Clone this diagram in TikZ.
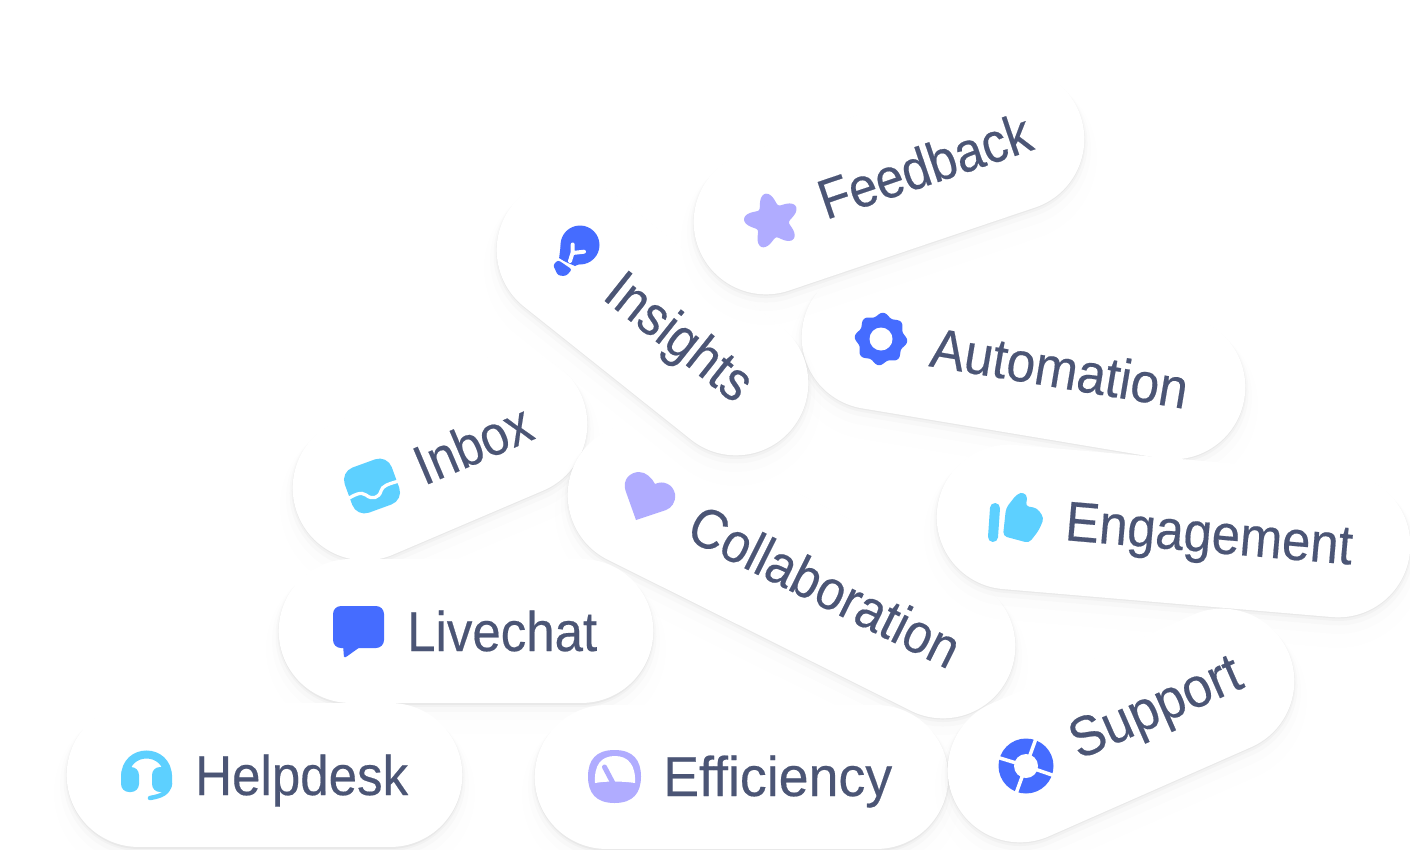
\documentclass[tikz,border=0pt]{standalone}
\usepackage{fontspec}
\setmainfont[FakeBold=0.35]{Liberation Sans}
\usetikzlibrary{calc}
\definecolor{ink}{RGB}{75,85,117}
\definecolor{blueic}{RGB}{69,108,255}
\definecolor{cyanic}{RGB}{93,208,255}
\definecolor{lilac}{RGB}{176,172,255}
\definecolor{shade}{RGB}{110,130,205}
\tikzset{
  lbl/.style={anchor=base west,inner sep=0pt,text=ink,font=\fontsize{56}{60}\selectfont},
}
\newcommand{\pill}[4]{%
  \foreach \w/\d/\o in {170/18/.005,158/10/.008,151/5/.014,147/2.5/.025,145/1/.035}{
    \draw[shade,opacity=\o,line width=\w pt,line cap=round] ($(#1,#2)+(0,\d)$) -- ($(#3,#4)+(0,\d)$);
  }
  \draw[white,line width=144.6pt,line cap=round] (#1,#2) -- (#3,#4);
}
\newcommand{\lab}[6]{% name x y angle width text
  \node[lbl,rotate=#4] (#1) at (#2,#3) {\resizebox{#5pt}{\height}{#6}};
}
\begin{document}
\begin{tikzpicture}[x=1pt,y=-1pt]
\useasboundingbox (0,0) rectangle (1410,849);
\fill[white] (0,0) rectangle (1410,849);
% pills
\pill{365}{488}{515}{424}
\pill{640}{495}{943}{646}
\pill{874}{337}{1173}{387}
\pill{569}{250}{736}{383}
\pill{1012}{139}{766}{222}
\pill{1009}{517}{1338}{545}
\pill{351}{631}{581}{631}
\pill{139}{775}{390}{775}
\pill{607}{777}{876}{777}
\pill{1020}{770}{1222}{681}
% labels
\lab{tfeed}{826}{220}{18.7}{221}{Feedback}
\lab{tins}{601}{298}{-38.4}{171}{Insights}
\lab{tauto}{928}{366}{-9.5}{260}{Automation}
\lab{teng}{1064}{540}{-4.9}{288}{Engagement}
\lab{tinbox}{424}{486}{23}{122}{Inbox}
\lab{tcoll}{684}{538}{-26.5}{295}{Collaboration}
\lab{tlive}{407}{651}{0}{190}{Livechat}
\lab{thelp}{195}{795}{0}{213}{Helpdesk}
\lab{teff}{663}{796}{0}{229}{Efficiency}
\lab{tsup}{1079}{760}{23.7}{182}{Support}
% star
\fill[lilac] plot[domain=0:360,samples=120,smooth] ({772+(22.5+5.5*cos(5*(\x-32)))*cos(\x)},{221-(22.5+5.5*cos(5*(\x-32)))*sin(\x)}) -- cycle;
% bulb
\fill[blueic] (580,245) circle[radius=19.5pt];
\fill[blueic] (561,243)--(559,259)--(575,266)--(593,258)--cycle;
\draw[white,line width=4pt,line cap=round,line join=round] (570,261)--(572.5,253)--(572.7,244.5) (572.5,253)--(584,251.7);
\draw[white,line width=3pt] (556,258)--(575,270);
\fill[blueic,rounded corners=2.5pt] (553,265)--(558,260)--(572,269.5)--(566,276)--(558,275.5)--cycle;
% inbox
\begin{scope}[shift={(372,486)},rotate=20]
\fill[cyanic,rounded corners=13pt] (-25,-24) rectangle (25,24);
\end{scope}
\draw[white,line width=3.3pt] (346,500) .. controls (354,495) and (361,491) .. (366,495) .. controls (372,500) and (379,498) .. (381,491) .. controls (382,486) and (388,484) .. (399,481);
% gear
\fill[blueic] plot[domain=0:360,samples=120,smooth] ({881+(24.5+1.8*cos(8*(\x-85)))*cos(\x)},{339-(24.5+1.8*cos(8*(\x-85)))*sin(\x)}) -- cycle;
\fill[white] (881,339) circle[radius=11.5pt];
% thumb
\draw[cyanic,line width=10pt,line cap=round] (995,508)--(993,537);
\fill[cyanic,rounded corners=4pt] (1006,508)--(1017,494)--(1024,492)--(1028,498)--(1025,506)--(1037,508)--(1044,518)--(1039,530)--(1029,543)--(1003,536)--cycle;
% heart
\fill[lilac] (636,520) -- (626,492) .. controls (621,478) and (632,472) .. (639,472) .. controls (646,472) and (652,478) .. (655,484) .. controls (663,480) and (673,484) .. (675,494) .. controls (676,503) and (671,508) .. (666,510) -- cycle;
% livechat
\fill[blueic,rounded corners=8pt] (333,606) rectangle (384,648);
\fill[blueic,rounded corners=1pt] (343,645)--(344,657.5)--(346,657)--(360,647)--cycle;
% headset
\draw[cyanic,line width=8pt] (125,777) .. controls (125,747) and (168,747) .. (168,777);
\fill[cyanic,rounded corners=8pt] (121,767) rectangle (139,792);
\fill[cyanic,rounded corners=8pt] (152,767) rectangle (172,792);
\draw[cyanic,line width=4.5pt,line cap=round] (170,784) .. controls (168,793) and (162,796) .. (150,798);
% gauge
\fill[lilac] (614.5,750) .. controls (633,750) and (641,760) .. (641,776.5) .. controls (641,793) and (633,803) .. (614.5,803) .. controls (596,803) and (588,793) .. (588,776.5) .. controls (588,760) and (596,750) .. (614.5,750) -- cycle;
\fill[white] (595,783) .. controls (606,781) and (622,781) .. (635,783) .. controls (636,765) and (628,756) .. (615,756) .. controls (601,756) and (594,765) .. (595,783) -- cycle;
\draw[lilac,line width=5pt,line cap=round] (604.5,767)--(614,785);
% support
\fill[blueic] (1026,766) circle[radius=27.5pt];
\foreach \a in {70,-19,250,163}{
  \draw[white,line width=3.5pt] (1026,766) -- ({1026+30*cos(\a)},{766-30*sin(\a)});
}
\fill[white] (1026,766) circle[radius=12pt];
\end{tikzpicture}
\end{document}
